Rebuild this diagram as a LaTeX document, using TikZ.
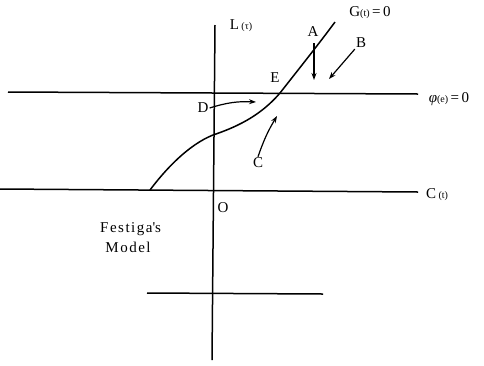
\documentclass[tikz,border=0pt]{standalone}
\usepackage{fontspec}
\setmainfont{Liberation Serif}
\usetikzlibrary{arrows.meta}

\newcommand{\sml}[1]{{\fontsize{10}{12}\selectfont#1}}

\begin{document}
\begin{tikzpicture}[x=1pt, y=-1pt, font=\fontsize{15}{18}\selectfont,
  axis/.style={line width=1.5pt},
  arr/.style={line width=1.2pt, -{Stealth[length=7pt,width=5pt]}},
  lbl/.style={inner sep=1pt}]
\useasboundingbox (0,0) rectangle (484,365);
% axes
\coordinate (Ltop) at (215,25);
\coordinate (Lbot) at (212,360);
\coordinate (Pl) at (8,92);
\coordinate (Pr) at (418,94);
\coordinate (Cl) at (0,189);
\coordinate (Cr) at (418,192);
\coordinate (Bl) at (147,293);
\coordinate (Br) at (323,294);
\draw[axis] (Ltop) -- (Lbot);
\draw[axis] (Pl) -- (Pr);
\draw[axis] (Cl) -- (Cr);
\draw[axis] (Bl) -- (Br);
% curve G=0
\draw[axis] (150,190) .. controls (165,170) and (188,145) .. (213,135)
  .. controls (240,126) and (262,114) .. (280,93)
  .. controls (298,70) and (318,45) .. (335,22);
% labels
\node[lbl] (Lax) at (241,26) {L\,\sml{(τ)}};
\node[lbl] (G) at (370,13) {G\sml{(t)}\,=\,0};
\node[lbl] (phi) at (449,99) {\textit{φ}\sml{(e)}\,=\,0};
\node[lbl] (Cax) at (437,195) {C\,\sml{(t)}};
\node[lbl] (O) at (223,208) {O};
\node[lbl] (A) at (313,32) {A};
\node[lbl] (B) at (361,43) {B};
\node[lbl] (E) at (275,78) {E};
\node[lbl] (D) at (203,108) {D};
\node[lbl] (C) at (258,163) {C};
\node[lbl, align=left, anchor=north west] (model) at (99,221)
  {\addfontfeature{LetterSpace=10}Festiga\textquotesingle s\\[2pt]\addfontfeature{LetterSpace=10}~Model};
% arrows
\coordinate (Atip) at (314,80);
\coordinate (Btip) at (329,79);
\coordinate (Dtip) at (256,102);
\coordinate (Ctip) at (277,116);
\draw[arr] (A.south) ++(1,5) -- (Atip);
\draw[arr] (B.south west) -- (Btip);
\draw[arr] (D.east) to[bend left=10] (Dtip);
\draw[arr] (C.north) to[bend left=6] (Ctip);
\end{tikzpicture}
\end{document}
